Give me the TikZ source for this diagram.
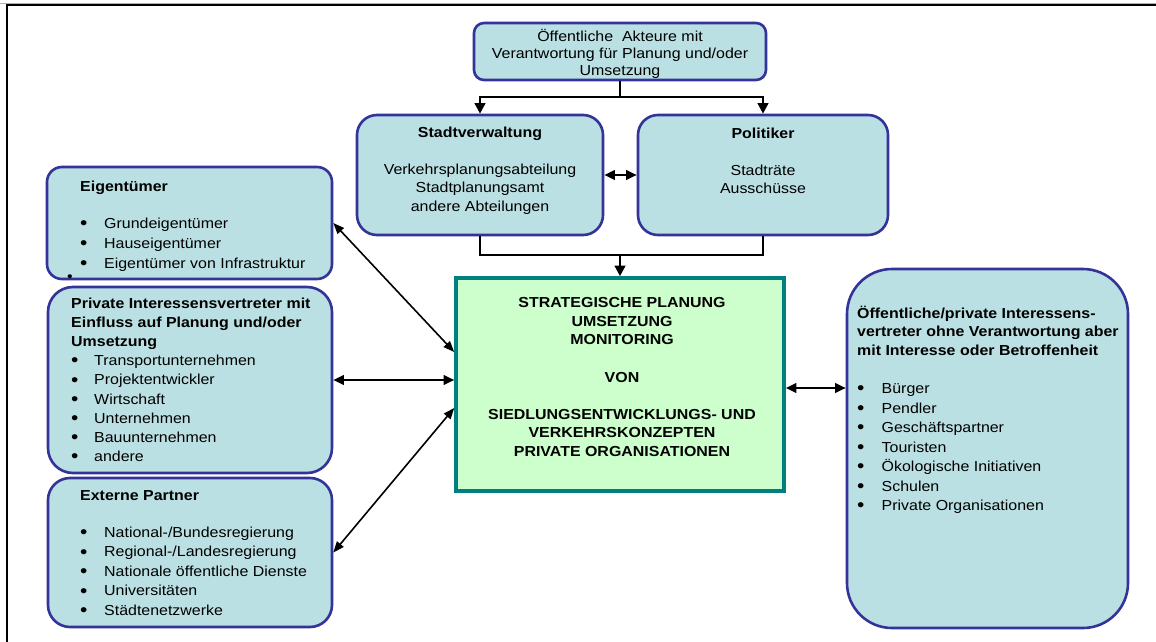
\documentclass[tikz,border=0pt]{standalone}
\usepackage{fontspec}
\setmainfont{Liberation Sans}[FakeStretch=1.1]
\usetikzlibrary{arrows.meta}
\definecolor{boxfill}{RGB}{187,224,227}
\definecolor{boxline}{RGB}{51,51,153}
\definecolor{cenfill}{RGB}{204,255,204}
\definecolor{cenline}{RGB}{0,128,128}
\newcommand{\bigbul}{\raisebox{-1.3pt}{\fontsize{19}{19}\selectfont\textbullet}}
\newcommand{\blt}[1]{\makebox[#1][l]{\bigbul}}
\newcommand{\mycl}[1]{\hbox to 0pt{\hss#1\hss}}
\newcommand{\myll}[1]{\hbox{#1}}
\begin{document}
\begin{tikzpicture}[x=1pt,y=-1pt,
  box/.style={draw=boxline, fill=boxfill, line width=2.6pt, inner sep=0pt},
  cenbox/.style={draw=cenline, fill=cenfill, line width=3.6pt, inner sep=0pt},
  txt/.style={inner sep=0pt, font=\fontsize{14.5}{20}\selectfont},
  tip/.style={-{Triangle[length=10.5pt,width=10.5pt]}},
  tree/.style={line width=2.4pt},
  conn/.style={tree, tip},
  dconn/.style={line width=1.6pt, {Triangle[length=11pt,width=8.5pt]}-{Triangle[length=11pt,width=8.5pt]}},
  hconn/.style={line width=2.2pt, {Triangle[length=10.5pt,width=9.5pt]}-{Triangle[length=10.5pt,width=9.5pt]}}
]
\useasboundingbox (0,0) rectangle (1156,642);
\fill[white] (0,0) rectangle (1156,642);
% frame
\draw[gray!60, line width=0.8pt] (0,3) -- (1156,3);
\draw[line width=2pt] (7,642) -- (7,5) -- (1156,5);

% boxes
\node[box, rounded corners=10pt, minimum width=292pt, minimum height=57pt] (top) at (620,51.5) {};
\node[box, rounded corners=20pt, minimum width=246pt, minimum height=120pt] (stadt) at (480,175) {};
\node[box, rounded corners=20pt, minimum width=250pt, minimum height=120pt] (pol) at (763,175) {};
\node[box, rounded corners=15pt, minimum width=285pt, minimum height=112pt] (eig) at (189.5,223) {};
\node[box, rounded corners=25pt, minimum width=284pt, minimum height=186pt] (priv) at (190,380) {};
\node[box, rounded corners=22pt, minimum width=284pt, minimum height=149pt] (ext) at (190,552.5) {};
\node[cenbox, minimum width=328pt, minimum height=213pt] (cen) at (620,384.5) {};
\node[box, rounded corners=45pt, minimum width=281pt, minimum height=359pt] (pub) at (987.5,448.5) {};

% texts
\node[txt, anchor=base] (topT) at (620,42) {\vtop{\lineskiplimit=-20pt\baselineskip=16.5pt
  \mycl{Öffentliche\ \ Akteure mit}
  \mycl{Verantwortung für Planung und/oder}
  \mycl{Umsetzung}}};

\node[txt, anchor=base] (stadtT) at (480,137) {\vtop{\lineskiplimit=-20pt\baselineskip=18.5pt
  \mycl{\bfseries Stadtverwaltung}
  \vskip 18.5pt
  \mycl{Verkehrsplanungsabteilung}
  \mycl{Stadtplanungsamt}
  \mycl{andere Abteilungen}}};

\node[txt, anchor=base] (polT) at (763,138) {\vtop{\lineskiplimit=-20pt\baselineskip=18.5pt
  \mycl{\bfseries Politiker}
  \vskip 18.5pt
  \mycl{Stadträte}
  \mycl{Ausschüsse}}};

\node[txt, anchor=base] (cenT) at (622,307.7) {\vtop{\lineskiplimit=-20pt\baselineskip=18.6pt\bfseries
  \mycl{STRATEGISCHE PLANUNG}
  \mycl{UMSETZUNG}
  \mycl{MONITORING}
  \vskip 18.6pt
  \mycl{VON}
  \vskip 18.6pt
  \mycl{SIEDLUNGSENTWICKLUNGS- UND}
  \mycl{VERKEHRSKONZEPTEN}
  \mycl{PRIVATE ORGANISATIONEN}}};

\node[txt, anchor=base west] (eigT) at (80,191) {\vtop{\lineskiplimit=-20pt\baselineskip=20pt
  \myll{\bfseries Eigentümer}
  \vskip 17pt
  \myll{\blt{24pt}Grundeigentümer}
  \myll{\blt{24pt}Hauseigentümer}
  \myll{\blt{24pt}Eigentümer von Infrastruktur}}};
\node[txt] (stray) at (70,278) {\textbullet};

\node[txt, anchor=base west] (privT) at (71,308) {\vtop{\lineskiplimit=-20pt\baselineskip=19.2pt
  \myll{\bfseries Private Interessensvertreter mit}
  \myll{\bfseries Einfluss auf Planung und/oder}
  \myll{\bfseries Umsetzung}
  \myll{\blt{23pt}Transportunternehmen}
  \myll{\blt{23pt}Projektentwickler}
  \myll{\blt{23pt}Wirtschaft}
  \myll{\blt{23pt}Unternehmen}
  \myll{\blt{23pt}Bauunternehmen}
  \myll{\blt{23pt}andere}}};

\node[txt, anchor=base west] (extT) at (80,500) {\vtop{\lineskiplimit=-20pt\baselineskip=19.6pt
  \myll{\bfseries Externe Partner}
  \vskip 17.5pt
  \myll{\blt{24pt}National-/Bundesregierung}
  \myll{\blt{24pt}Regional-/Landesregierung}
  \myll{\blt{24pt}Nationale öffentliche Dienste}
  \myll{\blt{24pt}Universitäten}
  \myll{\blt{24pt}Städtenetzwerke}}};

\node[txt, anchor=base west] (pubT) at (857,318) {\vtop{\lineskiplimit=-20pt\baselineskip=18.7pt
  \myll{\bfseries Öffentliche/private Interessens-}
  \myll{\bfseries vertreter ohne Verantwortung aber}
  \myll{\bfseries mit Interesse oder Betroffenheit}
  \baselineskip=19.5pt
  \vskip 18.6pt
  \myll{\blt{24.5pt}Bürger}
  \myll{\blt{24.5pt}Pendler}
  \myll{\blt{24.5pt}Geschäftspartner}
  \myll{\blt{24.5pt}Touristen}
  \myll{\blt{24.5pt}Ökologische Initiativen}
  \myll{\blt{24.5pt}Schulen}
  \myll{\blt{24.5pt}Private Organisationen}}};

% connectors
\coordinate (j1) at (620,97);
\coordinate (j2) at (620,255);
\draw[tree] (top.south) -- (j1);
\draw[conn] (j1) -| (stadt.north);
\draw[conn] (j1) -| (pol.north);
\draw[tree] (stadt.south) |- (j2) -| (pol.south);
\draw[conn] (j2) -- (cen.north);
\draw[hconn] (stadt.east) -- (pol.west);
\draw[dconn] (eig.east) -- ([yshift=32.5pt]cen.west);
\draw[hconn] (priv.east) -- (priv.east -| cen.west);
\draw[dconn] ([yshift=-23.5pt]cen.west) -- (ext.east);
\draw[hconn] ([yshift=-3.5pt]cen.east) -- ([yshift=-3.5pt]cen.east -| pub.west);
\end{tikzpicture}
\end{document}
